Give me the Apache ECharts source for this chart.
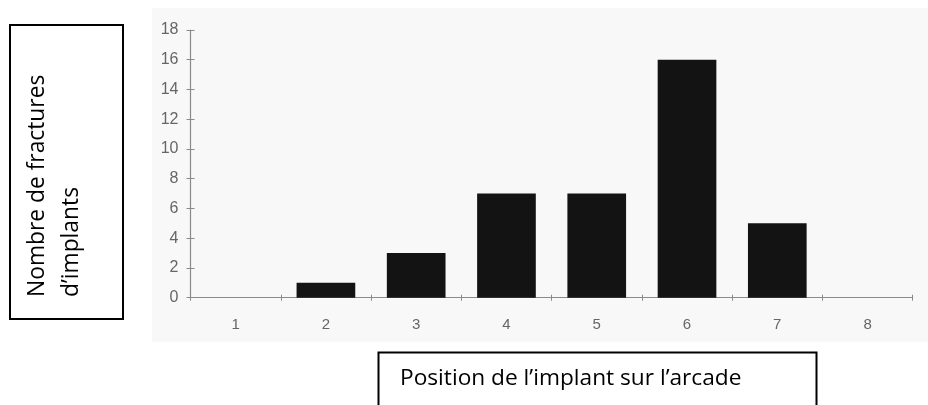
<!DOCTYPE html>
<html>
<head>
<meta charset="utf-8">
<script src="https://cdn.jsdelivr.net/npm/echarts@6/dist/echarts.min.js"></script>
<style>
html,body{margin:0;padding:0;background:#fff;}
#c{width:928px;height:405px;}
</style>
</head>
<body>
<div id="c"></div>
<script>
const categories = ['1','2','3','4','5','6','7','8'];
const fractures = [0, 1, 3, 7, 7, 16, 5, 0];
const yTicks = [0, 2, 4, 6, 8, 10, 12, 14, 16, 18];
const yTitleLines = ['Nombre de fractures', 'd\u2019implants'];
const xTitle = 'Position de l\u2019implant sur l\u2019arcade';

const chart = echarts.init(document.getElementById('c'), null, {renderer: 'canvas'});
const axisGray = '#8a8a8a';
const labelGray = '#666666';
const labelFont = 'Liberation Sans';

const catAxisBase = {
  type: 'category',
  data: categories,
  position: 'bottom',
  boundaryGap: true,
  axisLine: {show: true, lineStyle: {color: axisGray, width: 1.2}},
  splitLine: {show: false}
};
const valAxisBase = {
  type: 'value',
  min: 0, max: 18, interval: 2,
  position: 'left',
  splitLine: {show: false}
};

chart.setOption({
  backgroundColor: '#ffffff',
  animation: false,
  graphic: [
    {type: 'rect', z: -10, shape: {x: 152, y: 8, width: 776, height: 334}, style: {fill: '#f8f8f8'}},
    {type: 'rect', shape: {x: 10, y: 25, width: 113, height: 294}, style: {fill: '#ffffff', stroke: '#000', lineWidth: 2}},
    {type: 'text', x: 38, y: 297, rotation: Math.PI / 2,
      style: {text: yTitleLines[0], font: '22.8px "Open Sans"', fill: '#000', align: 'left', verticalAlign: 'middle'}},
    {type: 'text', x: 72, y: 297, rotation: Math.PI / 2,
      style: {text: yTitleLines[1], font: '22.8px "Open Sans"', fill: '#000', align: 'left', verticalAlign: 'middle'}},
    {type: 'rect', shape: {x: 378.5, y: 352.5, width: 438, height: 80}, style: {fill: '#ffffff', stroke: '#000', lineWidth: 2}},
    {type: 'text', x: 400, y: 379,
      style: {text: xTitle, font: '22.7px "Open Sans"', fill: '#000', align: 'left', verticalAlign: 'middle'}}
  ],
  grid: {left: 190.5, right: 15.3, top: 30, bottom: 107.3, containLabel: false},
  xAxis: [
    Object.assign({}, catAxisBase, {
      axisTick: {show: true, alignWithLabel: false, length: 3, lineStyle: {color: axisGray}},
      axisLabel: {show: true, margin: 20, color: labelGray, fontFamily: labelFont, fontSize: 15}
    }),
    Object.assign({}, catAxisBase, {
      offset: 0,
      axisLine: {show: false},
      axisTick: {show: true, inside: true, length: 3, lineStyle: {color: axisGray}},
      axisLabel: {show: false}
    })
  ],
  yAxis: [
    Object.assign({}, valAxisBase, {
      axisLine: {show: true, lineStyle: {color: axisGray, width: 1.2}},
      axisTick: {show: true, length: 4, lineStyle: {color: axisGray}},
      axisLabel: {show: true, margin: 12, color: labelGray, fontFamily: labelFont, fontSize: 16,
        formatter: v => yTicks.indexOf(v) >= 0 ? String(v) : ''}
    }),
    Object.assign({}, valAxisBase, {
      offset: 0,
      axisLine: {show: false},
      axisTick: {show: true, inside: true, length: 4, lineStyle: {color: axisGray}},
      axisLabel: {show: false}
    })
  ],
  series: [{
    type: 'bar',
    data: fractures,
    xAxisIndex: 0, yAxisIndex: 0,
    barCategoryGap: '35%',
    itemStyle: {color: '#131313', borderWidth: 0}
  }]
});
</script>
</body>
</html>
